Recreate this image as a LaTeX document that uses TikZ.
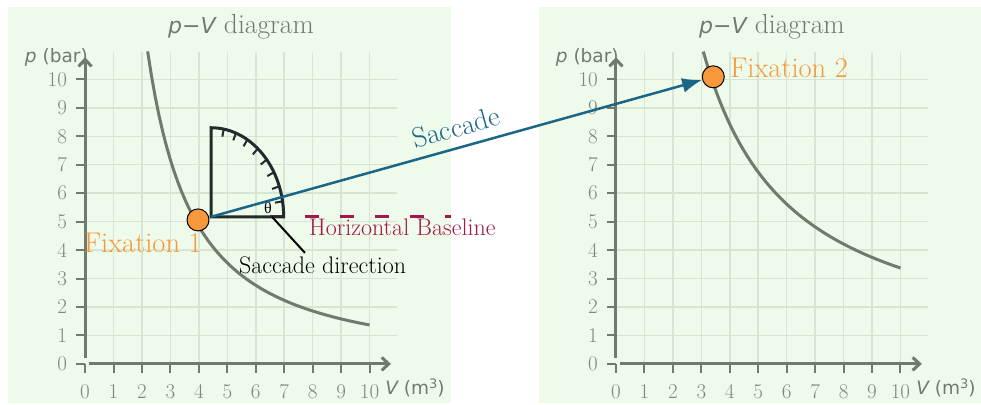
\documentclass[tikz,border=0pt]{standalone}
\usepackage{fontspec}
\usepackage{tikz}
\usetikzlibrary{arrows.meta,calc}
\newfontfamily\labelsans{DejaVu Sans}
\newfontfamily\thetaserif{Liberation Serif}
\definecolor{panel}{HTML}{EEFBEA}
\definecolor{gridline}{HTML}{D7E6D2}
\definecolor{axis}{HTML}{6E7C6C}
\definecolor{ticktext}{HTML}{7D897C}
\definecolor{saccade}{HTML}{1B6587}
\definecolor{fixation}{HTML}{F7983A}
\definecolor{basered}{HTML}{A3174C}
\definecolor{protractor}{HTML}{1F2B2D}
\newcommand{\pal}{\rmfamily}
\newcommand{\sanslbl}{\labelsans\fontsize{22}{24}\selectfont}
\newcommand{\pvtitle}{{\sanslbl\itshape p}{\sanslbl −}{\sanslbl\itshape V} diagram}
\newcommand{\cubed}{\raisebox{0.65ex}{\fontsize{13}{14}\selectfont 3}}
\newcommand{\pvpanel}[1]{%
  \fill[panel] (-2.7,-1.37) rectangle (12.85,12.55);
  \foreach \i in {1,...,10} \draw[panelgrid] (\i,0) -- (\i,10.95);
  \foreach \j in {1,...,10} \draw[panelgrid] (0,\j) -- (10.95,\j);
  \foreach \i in {0,...,10} {
    \draw[tickmark] (\i,0) -- (\i,-0.32);
    \node[ticklabel, anchor=base] (#1x\i) at (\i,-1.2) {\i};
    \draw[tickmark] (-0.32,\i) -- (0,\i);
    \node[ticklabel, anchor=east] (#1y\i) at (-0.63,\i) {\i};
  }
  \draw[axisline] (0.15,0) -- (10.75,0);
  \draw[axisline] (0,0.2) -- (0,10.78);
  \node[axislabel, anchor=base east] (#1p) at (0.1,10.58) {{\itshape p} (bar)};
  \node[axislabel, anchor=base west] (#1V) at (10.55,-1.09) {{\itshape V} (m\cubed)};
  \node[paneltitle] (#1title) at (5.48,11.85) {\pvtitle};
}

\begin{document}
\begin{tikzpicture}[
    panelgrid/.style={draw=gridline, line width=1.5pt},
    axisline/.style={draw=axis, line width=3pt, -{Straight Barb[length=7pt,width=13pt]}},
    tickmark/.style={draw=axis, line width=2pt},
    ticklabel/.style={font=\pal\fontsize{21}{23}\selectfont, text=ticktext, inner sep=0pt},
    axislabel/.style={font=\labelsans\fontsize{18.5}{20}\selectfont, text=axis, inner sep=0pt},
    paneltitle/.style={font=\pal\fontsize{27.5}{30}\selectfont, text=axis},
    pvcurve/.style={draw=axis, line width=3pt},
    fixpoint/.style={circle, fill=fixation, draw=black, line width=1pt, minimum size=22pt, inner sep=0pt},
    fixlabel/.style={font=\pal\fontsize{28.5}{30}\selectfont, text=fixation, inner sep=0pt},
    protract/.style={draw=protractor, line width=3pt},
    protick/.style={draw=protractor, line width=2pt},
    saccadeline/.style={draw=saccade, line width=2.5pt, -{Latex[length=20pt,width=15pt]}},
    saccadelbl/.style={font=\pal\fontsize{28.5}{30}\selectfont, text=saccade, inner sep=0pt},
    baselinedash/.style={draw=basered, line width=3pt, dash pattern=on 14pt off 21pt},
    note/.style={font=\pal\fontsize{24}{26}\selectfont, inner sep=0pt},
    leader/.style={draw=black, line width=2pt}
  ]
  \useasboundingbox (-2.99,-1.41) rectangle (31.49,12.79);
  % left panel
  \pvpanel{L}
  \draw[pvcurve] plot[domain=2.2:10, samples=60] (\x,{32.5/(\x^1.376)});
  % right panel
  \begin{scope}[xshift=18.66cm]
    \pvpanel{R}
    \draw[pvcurve] plot[domain=3.07:10, samples=60] (\x,{33.7/\x});
    \node[fixpoint] (fix2) at (3.42,10.09) {};
    \node[fixlabel, anchor=base west] (fix2lbl) at (4.01,10.05) {Fixation 2};
  \end{scope}
  % protractor and baseline
  \coordinate (proto) at (4.43,5.17);
  \coordinate (dashA) at (6.5,5.17);
  \coordinate (dashB) at (12.86,5.17);
  \draw[baselinedash] (dashA) -- (dashB);
  \draw[protract] (proto) -- ++(2.55,0) arc[start angle=0, end angle=90, x radius=2.55, y radius=3.13] -- cycle;
  \foreach \a in {10,20,...,80}
    \draw[protick] ($(proto)+(\a:2.55 and 3.13)$) -- ($(proto)+(\a:2.28 and 2.86)$);
  \node[fixpoint] (fix1) at (3.97,5.06) {};
  \node[fixlabel, anchor=base east] (fix1lbl) at (4.11,3.9) {Fixation 1};
  \node[inner sep=0pt, font=\thetaserif\fontsize{16}{18}\selectfont] (theta) at (6.43,5.48) {θ};
  \coordinate (leadA) at (6.57,5.17);
  \coordinate (leadB) at (7.73,3.9);
  \draw[leader] (leadA) -- (leadB);
  \node[note] (dirlbl) at (8.35,3.45) {Saccade direction};
  \node[note, text=basered, anchor=base west] (baselbl) at (7.87,4.53) {Horizontal Baseline};
  % saccade
  \draw[saccadeline] (proto) -- (fix2) node[saccadelbl, pos=0.51, sloped, above=9pt] (sacclbl) {Saccade};
\end{tikzpicture}
\end{document}
